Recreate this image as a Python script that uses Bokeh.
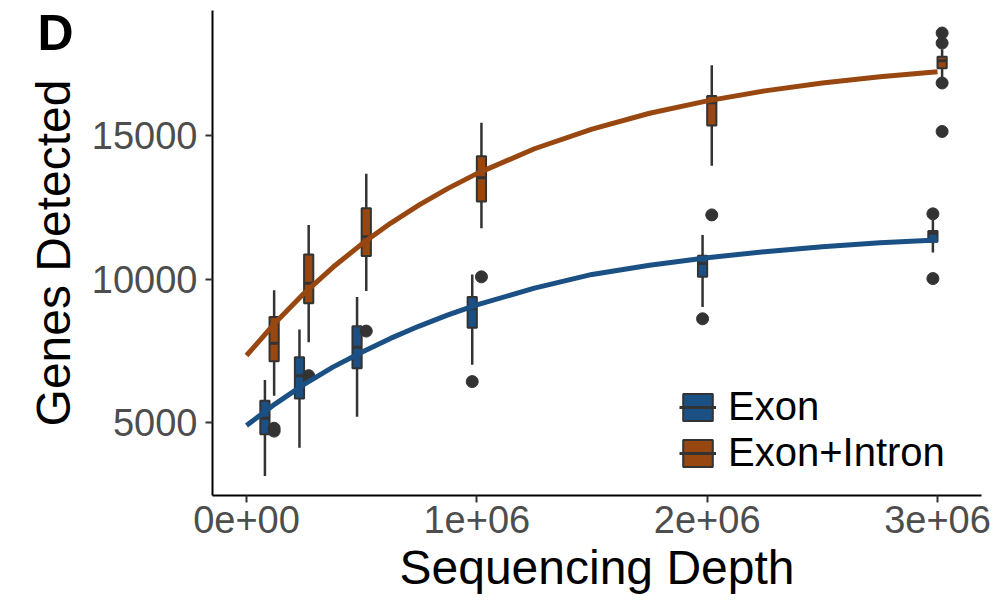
from bokeh.plotting import figure
from bokeh.models import (ColumnDataSource, FixedTicker, Legend, LegendItem, LinearAxis,
                          Range1d)
from bokeh.embed import file_html
from bokeh.resources import INLINE

# ---------------- data ----------------
depths = [100000, 250000, 500000, 1000000, 2000000, 3000000]

exon_lower = [3135, 4125, 5200, 7015, 9025, 10925]
exon_q1 = [4592, 5840, 6890, 8300, 10075, 11300]
exon_median = [5150, 6630, 7620, 8965, 10540, 11590]
exon_q3 = [5758, 7275, 8350, 9375, 10810, 11675]
exon_upper = [6482, 8245, 9375, 10155, 11535, 12060]

ei_lower = [5933, 7800, 9585, 11765, 13945, 17030]
ei_q1 = [7135, 9155, 10800, 12700, 15345, 17345]
ei_median = [7765, 9855, 11475, 13530, 16140, 17600]
ei_q3 = [8675, 10855, 12466, 14275, 16375, 17740]
ei_upper = [9610, 11883, 13670, 15440, 17450, 18005]

exon_out_depth = [1000000, 2000000, 3000000, 3000000]
exon_out_value = [6425, 8614, 12270, 10015]
ei_out_depth = [100000, 100000, 250000, 500000, 1000000, 2000000, 3000000, 3000000, 3000000, 3000000]
ei_out_value = [4800, 4700, 6633, 8185, 10075, 12233, 18570, 18220, 16830, 15140]

fit_depth = [0, 125000, 250000, 375000, 500000, 625000, 750000, 875000, 1000000,
             1250000, 1500000, 1750000, 2000000, 2250000, 2500000, 2750000, 3000000]
exon_fit = [4900, 5650, 6330, 6930, 7450, 7930, 8360, 8750, 9100,
            9680, 10160, 10480, 10740, 10950, 11120, 11260, 11360]
ei_fit = [7335, 8476, 9500, 10408, 11217, 11940, 12585, 13158, 13672,
          14538, 15225, 15774, 16207, 16555, 16830, 17046, 17221]

x_ticks = [0, 1000000, 2000000, 3000000]
x_tick_labels = ["0e+00", "1e+06", "2e+06", "3e+06"]
y_ticks = [5000, 10000, 15000]

series_names = ["Exon", "Exon+Intron"]
panel_tag = "D"
panel_tag_level = 18554   # vertical level of the panel tag, on the y scale

# ---------------- styling ----------------
BLUE = "#1b5084"
BROWN = "#984710"
DARK = "#333333"
FONT = "Liberation Sans"
BOX_W = 40000
DODGE = 20000

p = figure(width=1000, height=600, output_backend="svg", toolbar_location=None,
           x_range=Range1d(-147600, 3191000), y_range=Range1d(2457, 19355),
           min_border_left=212, min_border_right=19, min_border_top=10,
           min_border_bottom=105)
p.outline_line_color = None
p.xgrid.visible = False
p.ygrid.visible = False
p.background_fill_color = "white"


def make_box(lower, q1, med, q3, upper, offset, color):
    xs = [d + offset for d in depths]
    src = ColumnDataSource(dict(x=xs, lower=lower, q1=q1, med=med, q3=q3, upper=upper,
                                x0=[x - BOX_W / 2 for x in xs],
                                x1=[x + BOX_W / 2 for x in xs]))
    p.segment(x0="x", y0="q3", x1="x", y1="upper", source=src, line_color=DARK, line_width=2.5)
    p.segment(x0="x", y0="q1", x1="x", y1="lower", source=src, line_color=DARK, line_width=2.5)
    box = p.vbar(x="x", width=BOX_W, top="q3", bottom="q1", source=src,
                 fill_color=color, line_color=DARK, line_width=2)
    med_r = p.segment(x0="x0", y0="med", x1="x1", y1="med", source=src,
                      line_color=DARK, line_width=3)
    return box, med_r


exon_box, exon_med = make_box(exon_lower, exon_q1, exon_median, exon_q3, exon_upper, -DODGE, BLUE)
p.scatter(x=[d - DODGE for d in exon_out_depth], y=exon_out_value, size=12,
          fill_color=DARK, line_color=DARK)
ei_box, ei_med = make_box(ei_lower, ei_q1, ei_median, ei_q3, ei_upper, DODGE, BROWN)
p.scatter(x=[d + DODGE for d in ei_out_depth], y=ei_out_value, size=12,
          fill_color=DARK, line_color=DARK)

p.line(fit_depth, exon_fit, line_color=BLUE, line_width=5, line_join="round")
p.line(fit_depth, ei_fit, line_color=BROWN, line_width=5, line_join="round")

# ---------------- axes ----------------
p.xaxis.ticker = FixedTicker(ticks=x_ticks)
p.xaxis.major_label_overrides = {t: l for t, l in zip(x_ticks, x_tick_labels)}
p.yaxis.ticker = FixedTicker(ticks=y_ticks)
p.xaxis.axis_label = "Sequencing Depth"
for ax in (p.xaxis[0], p.yaxis[0]):
    ax.axis_line_color = "black"
    ax.axis_line_width = 2
    ax.major_tick_line_color = "#333333"
    ax.major_tick_line_width = 2
    ax.major_tick_out = 7
    ax.major_tick_in = 0
    ax.minor_tick_line_color = None
    ax.major_label_text_font = FONT
    ax.major_label_text_font_size = "38px"
    ax.major_label_text_color = "#4d4d4d"
    ax.axis_label_text_font = FONT
    ax.axis_label_text_font_size = "48px"
    ax.axis_label_text_font_style = "normal"
    ax.axis_label_text_color = "black"
p.xaxis.major_label_standoff = 3
p.xaxis.axis_label_standoff = 5
p.yaxis.major_label_standoff = 8

# outer left axis: carries the panel tag "D" and the y title
outer = LinearAxis(ticker=FixedTicker(ticks=[panel_tag_level]),
                   major_label_overrides={panel_tag_level: panel_tag},
                   axis_label="Genes Detected",
                   axis_line_color=None, major_tick_line_color=None,
                   minor_tick_line_color=None, major_tick_out=0, major_tick_in=0,
                   major_label_standoff=15,
                   major_label_text_font=FONT, major_label_text_font_size="50px",
                   major_label_text_font_style="bold", major_label_text_color="black",
                   axis_label_text_font=FONT, axis_label_text_font_size="48px",
                   axis_label_text_font_style="normal", axis_label_text_color="black",
                   axis_label_standoff=-46)
p.add_layout(outer, "left")

# ---------------- legend ----------------
legend = Legend(items=[LegendItem(label=series_names[0], renderers=[exon_box, exon_med]),
                       LegendItem(label=series_names[1], renderers=[ei_box, ei_med])],
                location=(467, 20), orientation="vertical",
                glyph_width=37, glyph_height=34, label_standoff=12, spacing=1,
                padding=0, margin=0, border_line_alpha=0, background_fill_alpha=0,
                label_text_font=FONT, label_text_font_size="40px", label_text_color="black")
p.add_layout(legend, "center")

open("out.html", "w").write(file_html(p, INLINE))
